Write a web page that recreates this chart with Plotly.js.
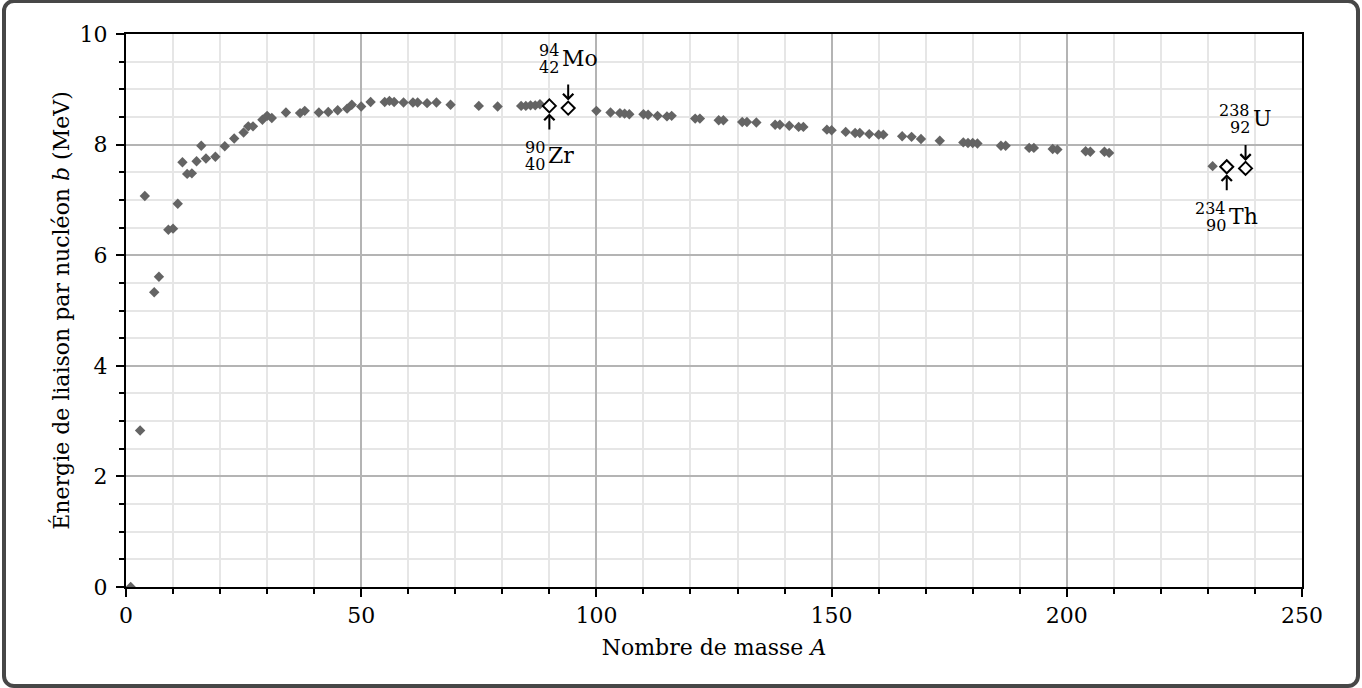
<!DOCTYPE html>
<html><head><meta charset="utf-8">
<script src="https://cdn.plot.ly/plotly-3.0.1.min.js"></script>
<style>
html,body{margin:0;padding:0;background:#fff;}
#chart{position:absolute;left:0;top:0;width:1362px;height:688px;}
#frame{position:absolute;left:2px;top:-1px;width:1358px;height:689px;border:4px solid #474747;border-radius:12px;box-sizing:border-box;pointer-events:none;}
</style></head><body>
<div id="chart"></div><div id="frame"></div>
<script>
// Mass numbers A and binding energy per nucleon b (MeV)
const massNumbers = [1,3,4,6,7,9,10,11,12,13,14,15,16,17,19,21,23,25,26,27,29,30,31,34,37,38,41,43,45,47,48,50,52,55,56,57,59,61,62,64,66,69,75,79,84,85,86,87,88,100,103,105,106,107,110,111,113,115,116,121,122,126,127,131,132,134,138,139,141,143,144,149,150,153,155,156,158,160,161,165,167,169,173,178,179,180,181,186,187,192,193,197,198,204,205,208,209,231];
const bindingEnergy = [0.00,2.83,7.07,5.33,5.61,6.46,6.48,6.93,7.68,7.47,7.48,7.70,7.98,7.75,7.78,7.97,8.11,8.22,8.33,8.33,8.45,8.52,8.48,8.58,8.57,8.61,8.58,8.59,8.62,8.65,8.72,8.69,8.77,8.77,8.79,8.77,8.76,8.76,8.76,8.75,8.76,8.72,8.70,8.69,8.70,8.70,8.71,8.71,8.73,8.61,8.58,8.57,8.56,8.55,8.55,8.54,8.52,8.51,8.52,8.47,8.47,8.44,8.44,8.41,8.41,8.40,8.36,8.36,8.34,8.32,8.32,8.27,8.26,8.23,8.21,8.21,8.19,8.18,8.18,8.15,8.14,8.10,8.07,8.04,8.03,8.03,8.02,7.98,7.98,7.94,7.94,7.92,7.91,7.88,7.87,7.87,7.85,7.61];

// Highlighted nuclides
const isoA = [90, 94, 234, 238];
const isoB = [8.70, 8.66, 7.60, 7.57];
const isoZ = [40, 42, 90, 92];
const isoSymbol = ['Zr', 'Mo', 'Th', 'U'];
const isoLabelSide = ['below', 'above', 'below', 'above'];

const xTickVals = [0, 50, 100, 150, 200, 250];
const yTickVals = [0, 2, 4, 6, 8, 10];

const FONT = '"DejaVu Serif", "Liberation Serif", serif';
const symSize = 22, numSize = 16, axSize = 22;
const canvas = document.createElement('canvas');
const ctx = canvas.getContext('2d');
function tw(str, size) { ctx.font = size + 'px "DejaVu Serif"'; return ctx.measureText(str).width; }

const annotations = [];
isoA.forEach((a, i) => {
  const b = isoB[i];
  const up = isoLabelSide[i] === 'above';
  const dir = up ? 1 : -1;
  annotations.push({x: a, y: b, xref: 'x', yref: 'y', text: '', showarrow: true,
    ax: 0, ay: -dir * 25, arrowhead: 4, arrowsize: 1, arrowwidth: 2, arrowcolor: '#000',
    standoff: 7.5, font: {size: 1}});
  const wSym = tw(isoSymbol[i], symSize);
  const wNum = Math.max(tw(String(a), numSize), tw(String(isoZ[i]), numSize));
  const gap = 1;
  const left = -(wNum + gap + wSym) / 2;
  const ySym = dir * 50;
  annotations.push({x: a, y: b, xref: 'x', yref: 'y', text: isoSymbol[i], showarrow: false,
    xanchor: 'left', yanchor: 'middle', xshift: left + wNum + gap, yshift: ySym, borderpad: 0,
    font: {family: FONT, size: symSize, color: '#000'}});
  annotations.push({x: a, y: b, xref: 'x', yref: 'y', text: String(a), showarrow: false,
    xanchor: 'right', yanchor: 'middle', xshift: left + wNum, yshift: ySym + 8, borderpad: 0,
    font: {family: FONT, size: numSize, color: '#000'}});
  annotations.push({x: a, y: b, xref: 'x', yref: 'y', text: String(isoZ[i]), showarrow: false,
    xanchor: 'right', yanchor: 'middle', xshift: left + wNum, yshift: ySym - 9, borderpad: 0,
    font: {family: FONT, size: numSize, color: '#000'}});
});

const data = [
  {x: massNumbers, y: bindingEnergy, type: 'scatter', mode: 'markers',
   marker: {symbol: 'diamond', size: 8, color: '#646464', line: {width: 0}}, hoverinfo: 'skip'},
  {x: isoA, y: isoB, type: 'scatter', mode: 'markers',
   marker: {symbol: 'diamond', size: 10, color: '#ffffff', line: {width: 2, color: '#000'}}, hoverinfo: 'skip'}
];

const axisCommon = {
  ticks: 'outside', ticklen: 8, tickwidth: 2, tickcolor: '#000',
  showline: true, linecolor: '#000', linewidth: 2, mirror: true,
  showgrid: true, gridcolor: '#b4b4b4', gridwidth: 2, zeroline: false,
  tickfont: {family: FONT, size: axSize, color: '#000'}, fixedrange: true
};

const layout = {
  width: 1362, height: 688,
  margin: {l: 126, r: 60, t: 34, b: 101},
  paper_bgcolor: 'rgba(0,0,0,0)', plot_bgcolor: '#fff',
  showlegend: false,
  xaxis: Object.assign({}, axisCommon, {
    range: [0, 250], tickmode: 'array', tickvals: xTickVals, ticktext: xTickVals.map(String),
    minor: {dtick: 10, tick0: 0, ticks: 'outside', ticklen: 5, tickwidth: 2, tickcolor: '#000', showgrid: true, gridcolor: '#e6e6e6', gridwidth: 2},
    title: {text: 'Nombre de masse <i>A</i>', font: {family: FONT, size: axSize, color: '#000'}, standoff: 12}
  }),
  yaxis: Object.assign({}, axisCommon, {
    range: [0, 10], tickmode: 'array', tickvals: yTickVals, ticktext: yTickVals.map(String),
    ticklabelstandoff: 4,
    minor: {dtick: 0.5, tick0: 0, ticks: 'outside', ticklen: 5, tickwidth: 2, tickcolor: '#000', showgrid: true, gridcolor: '#e6e6e6', gridwidth: 2},
    title: {text: 'Énergie de liaison par nucléon <i>b</i> (MeV)', font: {family: FONT, size: axSize, color: '#000'}, standoff: 4}
  }),
  annotations: annotations
};

Plotly.newPlot('chart', data, layout, {displayModeBar: false, staticPlot: true});
</script></body></html>
